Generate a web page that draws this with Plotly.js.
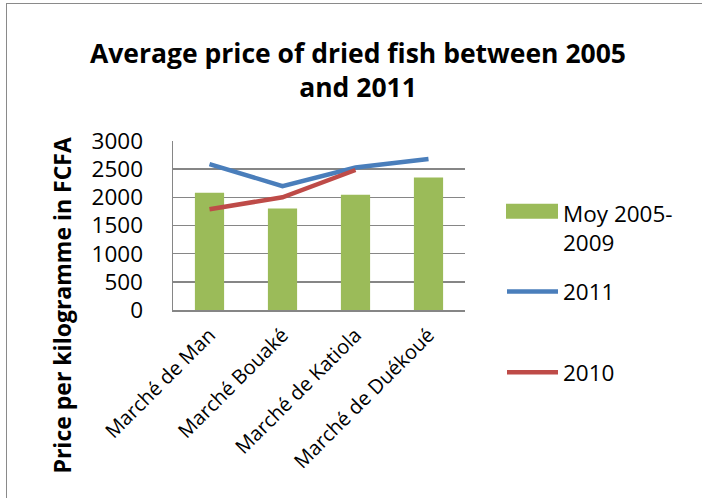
<!DOCTYPE html>
<html>
<head>
<meta charset="utf-8">
<script src="https://cdn.plot.ly/plotly-3.0.1.min.js"></script>
<style>
html,body{margin:0;padding:0;overflow:hidden;background:#fff;width:702px;height:498px;}
#chart{position:absolute;left:0;top:0;width:702px;height:498px;}
#frame{position:absolute;left:6px;top:3px;width:800px;height:600px;border:1px solid #8a8a8a;pointer-events:none;}
</style>
</head>
<body>
<div id="chart"></div>
<div id="frame"></div>
<script>
const categories = ["Marché de Man", "Marché Bouaké", "Marché de Katiola", "Marché de Duékoué"];
const seriesNames = ["Moy 2005-<br>2009", "2011", "2010"];
const seriesColors = ["#9BBB59", "#4A7EBB", "#BE4B48"];
const moy20052009 = [2080, 1800, 2045, 2350];
const y2011 = [2590, 2200, 2530, 2680];
const y2010 = [1790, 2000, 2485, null];
const yTicks = [0, 500, 1000, 1500, 2000, 2500, 3000];

const FONT = "Open Sans, sans-serif";

// plot area in pixels (for paper-coordinate conversion of legend/titles)
const PL = 173, PR = 465, PT = 141, PB = 310.5;
const px = v => (v - PL) / (PR - PL);
const py = v => (PB - v) / (PB - PT);

const traces = [
  {type: "bar", x: categories, y: moy20052009, name: seriesNames[0],
   marker: {color: seriesColors[0]}, width: 0.4},
  {type: "scatter", mode: "lines", x: categories, y: y2011, name: seriesNames[1],
   line: {color: seriesColors[1], width: 4.5}},
  {type: "scatter", mode: "lines", x: categories, y: y2010, name: seriesNames[2],
   line: {color: seriesColors[2], width: 4.5}, connectgaps: false}
];

// manual legend (Excel style): rect patch for bars, long line for lines
const symbolY = [212, 292, 373];
const textY = [228, 292, 373];
const shapes = [
  {type: "rect", xref: "paper", yref: "paper", x0: px(506), x1: px(558), y0: py(219), y1: py(204),
   fillcolor: seriesColors[0], line: {width: 0}},
  {type: "line", xref: "paper", yref: "paper", x0: px(507), x1: px(558), y0: py(symbolY[1]), y1: py(symbolY[1]),
   line: {color: seriesColors[1], width: 4.5}},
  {type: "line", xref: "paper", yref: "paper", x0: px(507), x1: px(558), y0: py(symbolY[2]), y1: py(symbolY[2]),
   line: {color: seriesColors[2], width: 4.5}}
];
const legendAnn = seriesNames.map((n, i) => ({
  text: n, xref: "paper", yref: "paper", x: px(561), y: py(textY[i]),
  xanchor: "left", yanchor: "middle", align: "left", showarrow: false,
  font: {size: 22.5, family: FONT, color: "#000"}
}));

const layout = {
  width: 702, height: 498,
  margin: {l: PL, r: 702 - PR, t: PT, b: 498 - PB, pad: 0},
  paper_bgcolor: "#fff", plot_bgcolor: "#fff",
  font: {family: FONT, color: "#000"},
  title: {text: "<b>Average price of dried fish between 2005<br>and 2011</b>",
          font: {family: FONT, size: 26.5, color: "#000"},
          x: 358 / 702, xanchor: "center", y: 1 - 63 / 498, yanchor: "top"},
  xaxis: {type: "category", tickangle: -45, tickfont: {size: 20, family: FONT},
          showline: true, linecolor: "#868686", linewidth: 1.5, ticks: "", ticklabelstandoff: 4,
          showgrid: false, zeroline: false, automargin: false},
  yaxis: {range: [0, 3000], tickvals: yTicks, ticktext: yTicks.map(String),
          tickfont: {size: 22.5, family: FONT}, showgrid: true, gridcolor: "#868686", gridwidth: 1.5,
          showline: true, linecolor: "#868686", linewidth: 1.5, ticks: "", ticklabelstandoff: 24,
          zeroline: false, automargin: false},
  showlegend: false,
  shapes: shapes,
  annotations: [{text: "<b>Price per kilogramme in FCFA</b>", textangle: -90,
                 xref: "paper", yref: "paper", x: px(62), y: py(306),
                 xanchor: "center", yanchor: "middle", showarrow: false,
                 font: {size: 23, family: FONT, color: "#000"}}].concat(legendAnn)
};

Plotly.newPlot("chart", traces, layout, {displayModeBar: false, staticPlot: true});
</script>
</body>
</html>
